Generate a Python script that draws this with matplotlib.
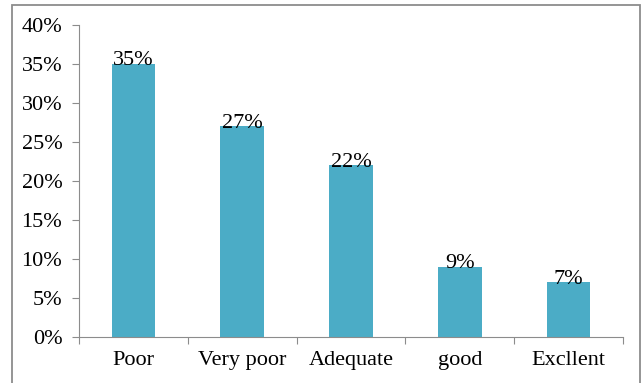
import numpy as np
import matplotlib.pyplot as plt
from matplotlib.patches import Rectangle

categories = ["Poor", "Very poor", "Adequate", "good", "Excllent"]
values = [35, 27, 22, 9, 7]
yticks = [0, 5, 10, 15, 20, 25, 30, 35, 40]

plt.rcParams['font.family'] = ['Liberation Serif', 'DejaVu Serif']
fs = 16

fig = plt.figure(figsize=(6.44, 3.83), dpi=100)
# grey frame round the chart, open at the bottom edge
fig.patches.append(Rectangle((12 / 644, -0.1), (640 - 12) / 644, 1.1 - 5 / 383,
                             transform=fig.transFigure, fill=False,
                             edgecolor="#8c8c8c", linewidth=1.3))
ax = fig.add_axes([79 / 644, 1 - 337 / 383, (623 - 79) / 644, (337 - 25) / 383])

x = np.arange(len(categories))
ax.bar(x, values, width=0.4, color="#4bacc6")
for xi, v in zip(x, values):
    ax.annotate(f"{v}%", (xi, v), xytext=(0, -1), textcoords="offset points",
                ha="center", va="baseline", fontsize=fs)

ax.set_xlim(-0.5, len(categories) - 0.5)
ax.set_ylim(0, 40)
ax.set_yticks(yticks)
ax.set_yticklabels([f"{t}%" for t in yticks], fontsize=fs)
# tick marks between categories, labels at the centres
ax.set_xticks(np.arange(len(categories) + 1) - 0.5)
ax.set_xticklabels([])
ax.set_xticks(x, minor=True)
ax.set_xticklabels(categories, minor=True, fontsize=fs)
ax.tick_params(axis="x", which="minor", length=0, pad=10)
ax.tick_params(axis="x", which="major", length=5, color="#8c8c8c")
ax.tick_params(axis="y", length=5, color="#8c8c8c", pad=7)
for s in ["top", "right"]:
    ax.spines[s].set_visible(False)
for s in ["left", "bottom"]:
    ax.spines[s].set_color("#8c8c8c")

fig.savefig("out.png", dpi=100)
